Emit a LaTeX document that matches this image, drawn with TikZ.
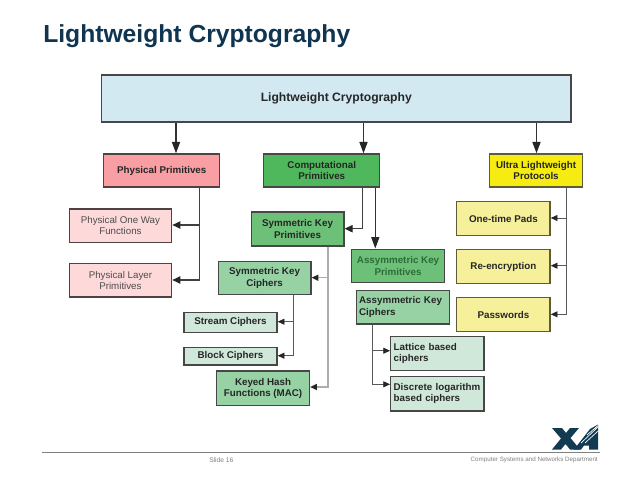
\documentclass[tikz,border=0pt]{standalone}
\usepackage{fontspec}
\setmainfont{Liberation Sans}
\usetikzlibrary{arrows.meta}
\definecolor{titleblue}{HTML}{0F3550}
\definecolor{logoblue}{HTML}{123B52}
\definecolor{edgegray}{HTML}{474747}
\definecolor{edgeolive}{HTML}{5E5A3A}
\definecolor{edgerose}{HTML}{4E4245}
\definecolor{boxtop}{HTML}{D2E9F2}
\definecolor{boxred}{HTML}{F99FA3}
\definecolor{boxpink}{HTML}{FED9DA}
\definecolor{boxgreen}{HTML}{4FB85C}
\definecolor{boxmid}{HTML}{6CC077}
\definecolor{boxsea}{HTML}{97D2A5}
\definecolor{boxpale}{HTML}{D0E8DA}
\definecolor{boxyellow}{HTML}{F6EC12}
\definecolor{boxcream}{HTML}{F6F09B}
\definecolor{textgreen}{HTML}{2E6B3A}
\tikzset{
  x=0.75pt,y=-0.75pt,
  box/.style={draw=edgegray,line width=1.1pt,anchor=north west,inner sep=0pt,align=center,text=black!85,font=\fontsize{7.35}{8.5}\selectfont\bfseries},
  plain/.style={box,draw=edgerose,text=black!70,font=\fontsize{7.3}{8.5}\selectfont},
  cream/.style={box,draw=edgeolive,fill=boxcream},
  leftbox/.style={box,align=left,inner xsep=2.2pt,text width=65.4pt},
  heavy/.style={-{Triangle[length=8.5pt,width=6pt,color=black!85]},line width=1.1pt,draw=black!80},
  medium/.style={-{Triangle[length=6pt,width=5.5pt,color=black!85]},line width=0.9pt,draw=black!75},
  light/.style={-{Triangle[length=5pt,width=4.5pt,color=black!85]},line width=0.5pt,draw=black!65},
  grayl/.style={-{Triangle[length=5pt,width=4.5pt,color=black!85]},line width=1pt,draw=black!32},
}
\begin{document}
\begin{tikzpicture}
\useasboundingbox (0,0) rectangle (638,479);
\fill[white] (0,0) rectangle (638,479);
\node[anchor=west,inner sep=0pt,text=titleblue,font=\fontsize{18.5}{20}\selectfont\bfseries] (title) at (43,36.5) {Lightweight Cryptography};
% boxes
\node[box,fill=boxtop,minimum width=351.8pt,minimum height=35.3pt,font=\fontsize{9.1}{10}\selectfont\bfseries] (top) at (101,74.3) {Lightweight Cryptography};
\node[box,draw=edgerose,fill=boxred,minimum width=87pt,minimum height=24.8pt] (phys) at (103,153.3) {Physical Primitives};
\node[box,fill=boxgreen,minimum width=87pt,minimum height=24.8pt] (comp) at (263,153.3) {Computational\\Primitives};
\node[box,draw=edgeolive,fill=boxyellow,minimum width=69.5pt,minimum height=24.8pt] (ultra) at (489,153.3) {Ultra Lightweight\\Protocols};
\node[plain,fill=boxpink,minimum width=76.8pt,minimum height=25pt] (oneway) at (68.5,208.3) {Physical One Way\\Functions};
\node[plain,fill=boxpink,minimum width=76.8pt,minimum height=25pt] (layer) at (68.5,263) {Physical Layer\\Primitives};
\node[box,fill=boxmid,minimum width=69.5pt,minimum height=25.3pt] (symp) at (250.5,211.3) {Symmetric Key\\Primitives};
\node[box,fill=boxsea,minimum width=69.5pt,minimum height=25.1pt] (symc) at (217.5,260.5) {Symmetric Key\\Ciphers};
\node[box,fill=boxpale,minimum width=69.8pt,minimum height=15pt] (stream) at (183.2,311.5) {Stream Ciphers};
\node[box,fill=boxpale,minimum width=69.8pt,minimum height=13.3pt] (block) at (183.2,346.5) {Block Ciphers};
\node[box,fill=boxsea,minimum width=69.5pt,minimum height=26pt] (keyed) at (216,370.3) {Keyed Hash\\Functions (MAC)};
\node[box,fill=boxmid,minimum width=69.5pt,minimum height=25.1pt,text=textgreen] (asyp) at (351,248.5) {Assymmetric Key\\Primitives};
\node[leftbox,fill=boxsea,minimum height=25.3pt] (asyc) at (355.5,289.5) {Assymmetric Key\\Ciphers\\[1.5pt]};
\node[leftbox,fill=boxpale,minimum height=25.8pt] (lat) at (390,335.5) {Lattice based\\ciphers};
\node[leftbox,fill=boxpale,minimum height=26pt] (disc) at (390,375.5) {Discrete logarithm\\based ciphers};
\node[cream,minimum width=70pt,minimum height=25.5pt] (otp) at (456,201) {One-time Pads};
\node[cream,minimum width=70pt,minimum height=25.3pt] (reenc) at (456,249) {Re-encryption};
\node[cream,minimum width=70pt,minimum height=25.3pt] (pass) at (456,297) {Passwords};
% connectors
\draw[heavy] (top.south -| 176,0) -- (phys.north -| 176,0);
\draw[heavy] (top.south -| 363.5,0) -- (comp.north -| 363.5,0);
\draw[heavy] (top.south -| 536.5,0) -- (ultra.north -| 536.5,0);
\draw[medium] (phys.south -| 199.7,0) |- (oneway.east |- 0,225);
\draw[medium] (phys.south -| 199.7,0) |- (layer.east |- 0,280);
\draw[medium] (comp.south -| 362.7,0) |- (symp.east |- 0,228.7);
\draw[heavy,line width=0.9pt] (comp.south -| 375.3,0) -- (asyp.north -| 375.3,0);
\draw[grayl] (symp.south -| 328,0) |- (symc.east |- 0,277.7);
\draw[grayl] (symp.south -| 328,0) |- (keyed.east |- 0,387);
\draw[light] (symc.south -| 293.7,0) |- (stream.east |- 0,321.7);
\draw[light] (symc.south -| 293.7,0) |- (block.east |- 0,355.7);
\draw[light] (asyc.south -| 372.7,0) |- (lat.west |- 0,350.7);
\draw[light] (asyc.south -| 372.7,0) |- (disc.west |- 0,384.3);
\draw[light] (ultra.south -| 566.7,0) |- (otp.east |- 0,218);
\draw[light] (ultra.south -| 566.7,0) |- (reenc.east |- 0,265.7);
\draw[light] (ultra.south -| 566.7,0) |- (pass.east |- 0,314.3);
% footer
\draw[draw=black!50,line width=0.7pt] (42,452.3) -- (600,452.3);
\node[anchor=west,inner sep=0pt,text=black!50,font=\fontsize{5}{6}\selectfont] (slide) at (209,460) {Slide 16};
\node[anchor=east,inner sep=0pt,text=black!50,font=\fontsize{4.67}{6}\selectfont] (dept) at (598,460) {Computer Systems and Networks Department};
% logo
\fill[logoblue] (552,428) -- (562,428) -- (566,433) -- (570,428) -- (579,428) -- (570.5,438) -- (580,449.5) -- (570,449.5) -- (565.5,444) -- (561,449.5) -- (552,449.5) -- (561,438.5) -- cycle;
\fill[logoblue] (574,449.5) -- (590,429) -- (598,424.5) -- (598,449.5) -- (589,449.5) -- (589,445.5) -- (584,445.5) -- (581,449.5) -- cycle;
\draw[white,line width=0.5pt] (581,443) -- (598,427) (585,443) -- (598,431) (587,435) -- (598,425.5);
\end{tikzpicture}
\end{document}
